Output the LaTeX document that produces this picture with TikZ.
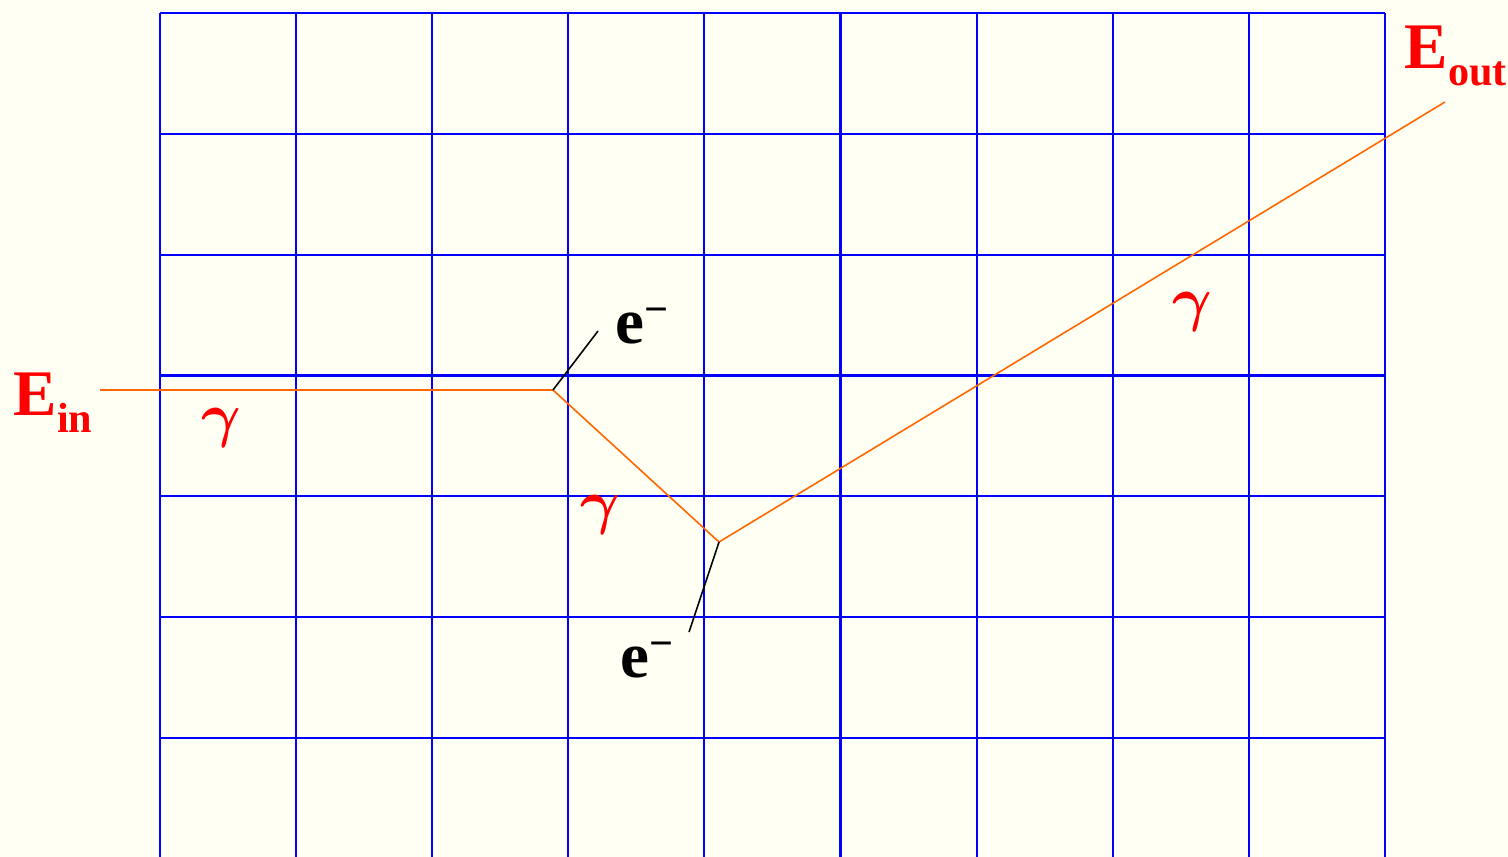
\documentclass[tikz,border=0pt]{standalone}
\usepackage{fontspec}
\setmainfont{Liberation Serif}
\definecolor{paper}{RGB}{255,255,243}
\definecolor{photon}{RGB}{255,102,0}
\newcommand{\lowidx}[1]{\raisebox{-5pt}{\fontsize{12}{13}\selectfont #1}}
\newcommand{\highidx}[1]{\raisebox{5.5pt}{\fontsize{12}{13}\selectfont #1}}

\begin{document}
\begin{tikzpicture}[x=.01cm,y=-.01cm,font=\fontsize{18.5}{20}\selectfont,
  gridline/.style={blue,line width=.6pt},
  ray/.style={photon,line width=.45pt},
  track/.style={black,line width=.45pt},
  lbl/.style={inner sep=0pt,anchor=base west,font=\bfseries\fontsize{18.5}{20}\selectfont},
  glbl/.style={red,inner sep=0pt,font=\boldmath\fontsize{18}{20}\selectfont}]
  \fill[paper] (0,0) rectangle (1508,857);
  \useasboundingbox (0,0) rectangle (1508,857);
  % calorimeter cells
  \foreach \i in {0,...,9}{\draw[gridline] (160+136.11*\i,13)--(160+136.11*\i,857);}
  \foreach \j in {0,...,6}{\draw[gridline] (160,13+120.83*\j)--(1385,13+120.83*\j);}
  % vertices and free ends
  \coordinate (in) at (100,390);
  \coordinate (v1) at (553,390);
  \coordinate (v2) at (719,542);
  \coordinate (out) at (1445,102);
  \coordinate (t1) at (598,331);
  \coordinate (t2) at (689,632);
  \draw[ray] (in)--(v1)--(v2)--(out);
  \draw[track] (v1)--(t1);
  \draw[track] (v2)--(t2);
  % labels
  \node[lbl,red] (ein) at (13,415) {E\lowidx{in}};
  \node[lbl,red] (eout) at (1404,68) {E\lowidx{out}};
  \node[lbl] (elec1) at (615,343) {e\highidx{−}};
  \node[lbl] (elec2) at (620,677) {e\highidx{−}};
  \node[glbl] (g1) at (221,428) {$\gamma$};
  \node[glbl] (g2) at (600,515) {$\gamma$};
  \node[glbl] (g3) at (1192,312) {$\gamma$};
\end{tikzpicture}
\end{document}
